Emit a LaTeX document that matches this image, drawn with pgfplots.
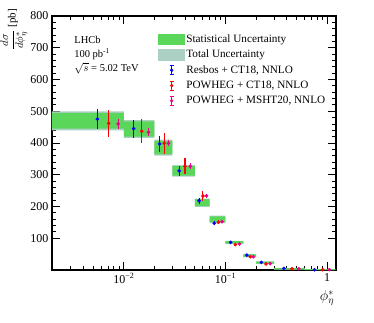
\documentclass[border=0pt]{standalone}
\usepackage{pgfplots}
\pgfplotsset{compat=1.18}
\usepackage{pgfplotstable}
\usepackage{fontspec}
\setmainfont{Liberation Serif}

\definecolor{statgreen}{RGB}{90,214,90}
\definecolor{totband}{RGB}{172,208,196}

\pgfplotstableread{
x      y    e
0.0055 475  32
0.0125 445  29
0.0225 397  24
0.035  312  16
0.055  218  10
0.0775 147  6
0.1125 87   4
0.1625 47   3
0.225  24   2
0.375  5    1
0.75   1    0.5
}\resbos

\pgfplotstableread{
x      y    e
0.0071 462  42
0.015  437  38
0.025  399  33
0.04   327  25
0.06   233  15
0.085  150  6
0.125  80   4
0.175  42   2
0.25   19   2
0.45   4    1
0.9    1    0.5
}\powct

\pgfplotstableread{
x      y    e
0.0088 460  16
0.0175 434  12
0.0275 399  10
0.045  327  10
0.065  234  6
0.0925 152  4
0.1375 82   3
0.1875 42   2
0.275  20   1
0.525  4    1
1.05   1    0.5
}\powmsht

\pgfplotsset{
    errpts/.style={#1, only marks, mark=*, mark size=1.6pt, forget plot,
        error bars/.cd, y dir=both, y explicit, error mark=none,
        error bar style={line width=1.1pt, #1}},
    errleg/.style={legend image code/.code={
        \path (0pt,0pt) (26pt,0pt);
        \draw[#1, line width=1.1pt] (13.5pt,-4.5pt) -- (13.5pt,4.5pt)
            (11.5pt,-4.5pt) -- (15.5pt,-4.5pt) (11.5pt,4.5pt) -- (15.5pt,4.5pt);
        \fill[#1] (13.5pt,0pt) circle (1.5pt);}},
    boxleg/.style={legend image code/.code={\fill[#1] (0pt,-5.3pt) rectangle (26pt,5.3pt);}},
}

\begin{document}
\begin{tikzpicture}
\useasboundingbox (0,0) rectangle (374pt,322pt);
\begin{axis}[
    at={(52pt,52pt)}, anchor=south west,
    width=284pt, height=254pt, scale only axis,
    xmode=log, xmin=0.00197, xmax=1.22,
    ymin=0, ymax=800,
    axis line style={line width=1.1pt},
    tick style={line width=0.9pt, black},
    tick align=inside,
    major tick length=8pt, minor tick length=4pt,
    ytick={100,200,...,800}, minor y tick num=4,
    xtick={0.01,0.1,1},
    xticklabels={10\textsuperscript{−2},10\textsuperscript{−1},1},
    minor xtick={0.003,0.004,0.005,0.006,0.007,0.008,0.009,
                 0.02,0.03,0.04,0.05,0.06,0.07,0.08,0.09,
                 0.2,0.3,0.4,0.5,0.6,0.7,0.8,0.9},
    /pgf/number format/assume math mode=true,
    tick label style={font=\fontsize{12}{14}\selectfont},
    legend cell align=left,
    legend style={draw=none, fill=none, at={(axis description cs:0.3725,0.935)},
        anchor=north west, font=\fontsize{11.2}{13}\selectfont,
        row sep=2.2pt, inner sep=0pt},
]
\addlegendimage{boxleg=statgreen}
\addlegendentry{Statistical Uncertainty}
\addlegendimage{boxleg=totband}
\addlegendentry{Total Uncertainty}
\addlegendimage{errleg=blue}
\addlegendentry{Resbos + CT18, NNLO}
\addlegendimage{errleg=red}
\addlegendentry{POWHEG + CT18, NNLO}
\addlegendimage{errleg=magenta}
\addlegendentry{POWHEG + MSHT20, NNLO}

% total uncertainty: one box per bin (lo edge, hi edge), blank line between bins
\addplot[fill=totband, draw=none, forget plot] table[empty line=jump] {
x     y
0.001 440
0.01  440
0.01  500
0.001 500

0.01  416
0.02  416
0.02  472
0.01  472

0.02  360
0.03  360
0.03  411
0.02  411

0.03  294
0.05  294
0.05  330
0.03  330

0.05  199
0.07  199
0.07  225
0.05  225

0.07  148
0.1   148
0.1   171
0.07  171

0.1   82
0.15  82
0.15  92
0.1   92

0.15  40
0.2   40
0.2   50
0.15  50

0.2   19
0.3   19
0.3   27
0.2   27

0.3   1
0.6   1
0.6   7
0.3   7

0.6   0
1.2   0
1.2   3
0.6   3
};
% statistical uncertainty
\addplot[fill=statgreen, draw=none, forget plot] table[empty line=jump] {
x     y
0.001 445
0.01  445
0.01  495
0.001 495

0.01  420
0.02  420
0.02  468
0.01  468

0.02  364
0.03  364
0.03  407
0.02  407

0.03  297
0.05  297
0.05  327
0.03  327

0.05  201
0.07  201
0.07  223
0.05  223

0.07  150
0.1   150
0.1   169
0.07  169

0.1   83
0.15  83
0.15  91
0.1   91

0.15  41
0.2   41
0.2   49
0.15  49

0.2   20
0.3   20
0.3   26
0.2   26

0.3   2
0.6   2
0.6   6
0.3   6

0.6   0.3
1.2   0.3
1.2   2.5
0.6   2.5
};

% predictions
\addplot[errpts=blue] table[x=x, y=y, y error=e] {\resbos};
\addplot[errpts=red] table[x=x, y=y, y error=e] {\powct};
\addplot[errpts=magenta] table[x=x, y=y, y error=e] {\powmsht};

\node[anchor=base west, inner sep=0pt, font=\fontsize{10.5}{12}\selectfont] at (axis description cs:0.078,0.890) {LHCb};
\node[anchor=base west, inner sep=0pt, font=\fontsize{10.5}{12}\selectfont] at (axis description cs:0.078,0.836) {100 pb\textsuperscript{-1}};
\node[anchor=base west, inner sep=0pt, font=\fontsize{10.5}{12}\selectfont] at (axis description cs:0.078,0.782) {$\smash{\sqrt{s}}$ = 5.02 TeV};
\end{axis}
\node[rotate=90, anchor=east, inner sep=0pt, font=\fontsize{11}{13}\selectfont] at (14pt,313pt)
    {$\displaystyle\frac{d\sigma}{d\phi^{*}_{\eta}}$ [pb]};
\node[font=\fontsize{14}{16}\selectfont] at (327pt,24pt) {$\phi^{*}_{\eta}$};
\end{tikzpicture}
\end{document}
